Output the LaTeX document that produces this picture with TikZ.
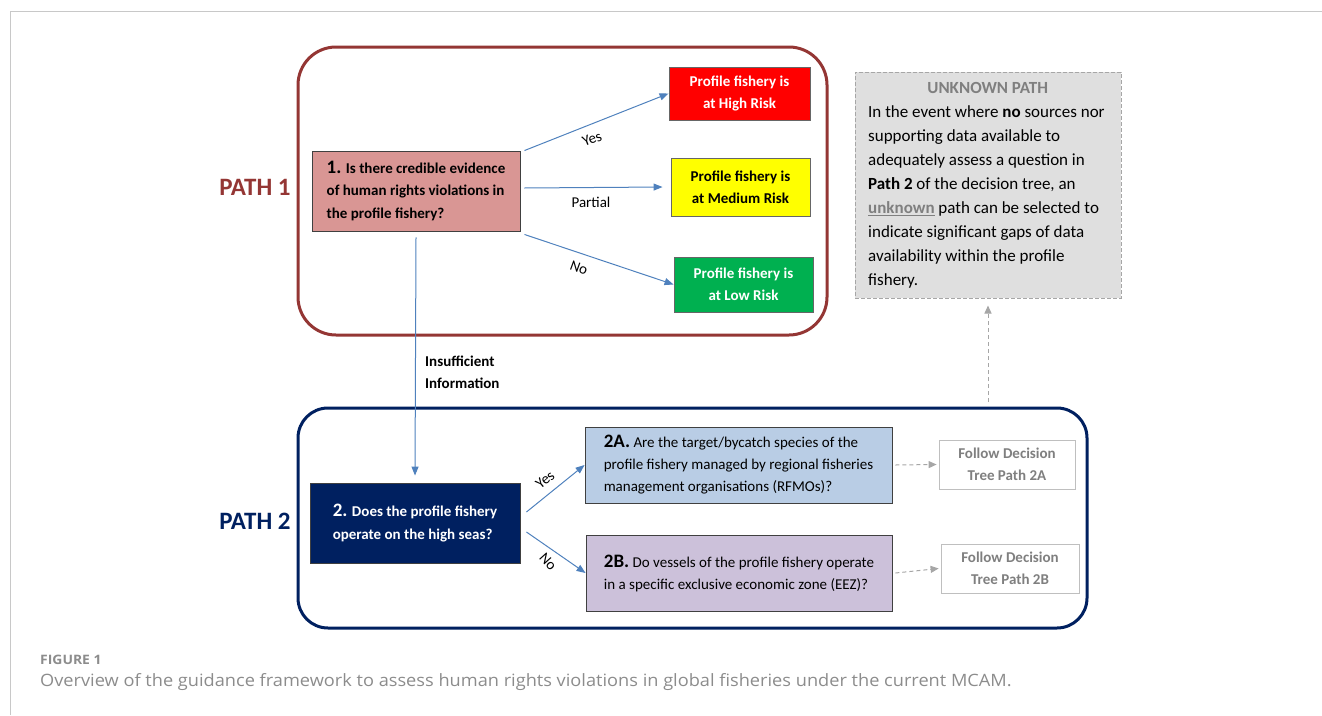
\documentclass[tikz,border=0pt]{standalone}
\usepackage{fontspec}
\setmainfont{Carlito}
\newfontfamily\capfont[FakeStretch=1.07]{Open Sans}
\usetikzlibrary{arrows.meta,calc}
\definecolor{pathred}{HTML}{943634}
\definecolor{navy}{HTML}{002060}
\definecolor{arrblue}{HTML}{4F81BD}
\definecolor{pinkq}{HTML}{D99694}
\definecolor{hirisk}{HTML}{FF0000}
\definecolor{medrisk}{HTML}{FFFF00}
\definecolor{lowrisk}{HTML}{00B050}
\definecolor{lblue}{HTML}{B9CDE5}
\definecolor{lilac}{HTML}{CCC1DA}
\definecolor{unkfill}{HTML}{DFDFDF}
\definecolor{unkline}{HTML}{A6A6A6}
\definecolor{greytxt}{HTML}{7F7F7F}
\definecolor{framegrey}{HTML}{C8C8C8}
\definecolor{capgrey}{HTML}{8C8C8C}
\tikzset{
  qbox/.style={draw=black!75, line width=0.9pt, inner sep=0pt, align=left, font=\fontsize{15}{22.5}\selectfont\bfseries},
  riskbox/.style={draw=black!60, line width=0.9pt, inner sep=0pt, align=center, font=\fontsize{15}{22}\selectfont\bfseries},
  followbox/.style={draw=black!25, line width=0.8pt, fill=white, inner sep=0pt, align=center, text=greytxt, font=\fontsize{15}{22}\selectfont\bfseries},
  barrow/.style={draw=arrblue, line width=1pt, -{Triangle[length=9pt,width=7pt]}},
  garrow/.style={draw=unkline, line width=1pt, dashed, dash pattern=on 4pt off 3pt, -{Triangle[length=8pt,width=7pt]}},
  elabel/.style={font=\fontsize{15}{16}\selectfont, inner sep=1pt},
  pathlabel/.style={font=\fontsize{25}{28}\selectfont\bfseries, inner sep=0pt},
}
\newcommand{\qnum}[1]{{\fontsize{19}{22}\selectfont\bfseries #1}}
\begin{document}
\begin{tikzpicture}[x=1pt,y=-1pt]
\useasboundingbox (0,0) rectangle (1322,715);
% page frame
\draw[framegrey, line width=0.8pt] (10,715) -- (10,11) -- (1322,11);
% path containers
\draw[pathred, line width=3pt, rounded corners=38pt] (298,47) rectangle (827,335);
\draw[navy, line width=3pt, rounded corners=30pt] (298,408) rectangle (1087,628);
\node[pathlabel, text=pathred] (p1) at (255,187) {PATH 1};
\node[pathlabel, text=navy] (p2) at (255,521) {PATH 2};
% path 1 nodes
\node[qbox, fill=pinkq, minimum width=208pt, minimum height=80pt] (b1) at (416,191)
  {\qnum{1.} Is there credible evidence\\of human rights violations in\\the profile fishery?};
\node[riskbox, fill=hirisk, text=white, minimum width=141pt, minimum height=53pt] (hi) at (739.5,93.5) {Profile fishery is\\at High Risk};
\node[riskbox, fill=medrisk, text=black, minimum width=139pt, minimum height=58pt] (med) at (740.5,187) {Profile fishery is\\at Medium Risk};
\node[riskbox, fill=lowrisk, text=white, minimum width=139pt, minimum height=55pt] (low) at (743.5,284.5) {Profile fishery is\\at Low Risk};
\draw[barrow] ([xshift=4pt]b1.north east) -- (hi.west);
\draw[barrow] ([xshift=4pt,yshift=3pt]b1.east) -- ([xshift=-8pt]med.west);
\draw[barrow] ([xshift=4pt,yshift=-3pt]b1.south east) -- (low.west);
\node[elabel, rotate=21] (lyes) at (592,139) {Yes};
\node[elabel] (lpart) at (591,202) {Partial};
\node[elabel, rotate=-20] (lno) at (579,268) {No};
% path 2 nodes
\node[qbox, fill=navy, text=white, minimum width=210pt, minimum height=80pt] (b2) at (415,523)
  {\qnum{2.} Does the profile fishery\\operate on the high seas?};
\draw[barrow] ([yshift=-6pt]b1.south) -- ([yshift=7pt]b2.north);
\node[font=\fontsize{15}{22}\selectfont\bfseries, align=left, anchor=west, inner sep=0pt] (insuf) at (425,372) {Insufficient\\Information};
\node[qbox, font=\fontsize{15}{22}\selectfont, fill=lblue, minimum width=307pt, minimum height=76pt] (q2a) at (738.5,465)
  {\qnum{2A.} Are the target/bycatch species of the\\profile fishery managed by regional fisheries\\management organisations (RFMOs)?};
\node[qbox, font=\fontsize{15}{22}\selectfont, fill=lilac, minimum width=306pt, minimum height=76pt] (q2b) at (739,573)
  {\qnum{2B.} Do vessels of the profile fishery operate\\in a specific exclusive economic zone (EEZ)?};
\node[followbox, minimum width=136pt, minimum height=49pt] (f2a) at (1007,464.5) {Follow Decision\\Tree Path 2A};
\node[followbox, minimum width=138pt, minimum height=49pt] (f2b) at (1010,568.5) {Follow Decision\\Tree Path 2B};
\draw[barrow] ([xshift=6pt,yshift=11pt]b2.east) -- (q2a.west);
\draw[barrow] ([xshift=6pt,yshift=-9pt]b2.east) -- (q2b.west);
\node[elabel, rotate=40] (l2yes) at (545,480) {Yes};
\node[elabel, rotate=-48] (l2no) at (548,562) {No};
\draw[garrow] ([xshift=3pt]q2a.east) -- ([xshift=-2pt]f2a.west);
\draw[garrow] ([xshift=3pt]q2b.east) -- ([xshift=-2pt]f2b.west);
% unknown path
\node[draw=unkline, dashed, dash pattern=on 4pt off 2pt, line width=1pt, fill=unkfill, minimum width=266pt, minimum height=226pt, inner sep=0pt] (unk) at (988,185) {};
\node[anchor=north west, align=left, inner sep=0pt, font=\fontsize{17}{24}\selectfont] (unktxt) at (868,82)
  {\makebox[239pt][c]{\textcolor{greytxt}{\bfseries UNKNOWN PATH}}\\
   In the event where \textbf{no} sources nor\\
   supporting data available to\\
   adequately assess a question in\\
   \textbf{Path 2} of the decision tree, an\\
   \textcolor{greytxt}{\bfseries\underline{unknown}} path can be selected to\\
   indicate significant gaps of data\\
   availability within the profile\\
   fishery.};
\coordinate (ustart) at (988,402);
\draw[garrow] (ustart) -- ([yshift=-7pt]unk.south);
% caption
\node[anchor=west, inner sep=0pt, text=capgrey, font=\capfont\fontsize{13}{14}\selectfont\bfseries] (figlab) at (40,660) {FIGURE 1};
\node[anchor=west, inner sep=0pt, text=capgrey, font=\capfont\fontsize{17}{20}\selectfont] (cap) at (40,682) {Overview of the guidance framework to assess human rights violations in global fisheries under the current MCAM.};
\end{tikzpicture}
\end{document}
